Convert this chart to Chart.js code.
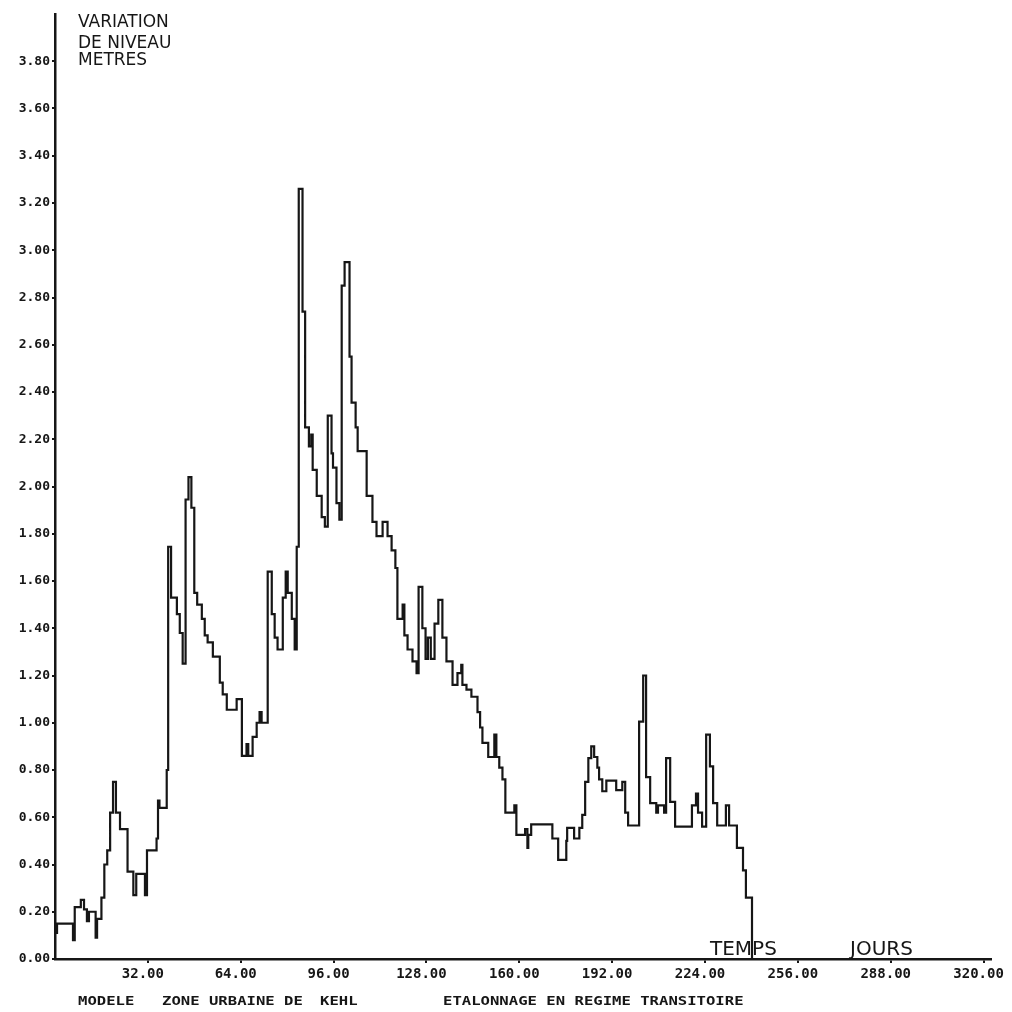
<!DOCTYPE html>
<html>
<head>
<meta charset="utf-8">
<script src="https://cdn.jsdelivr.net/npm/chart.js@4.4.1/dist/chart.umd.min.js"></script>
<style>
  html, body { margin: 0; padding: 0; background: #fff; }
  canvas { display: block; }
</style>
</head>
<body>
<canvas id="niveauChart" width="1012" height="1012"></canvas>
<script>
// ────────────────────────────────────────
// Donnees (jour de debut de palier, niveau en m)
// ────────────────────────────────────────
const days = [
    0, 0.7, 6.2, 6.8, 8.9, 10, 11, 11.7, 14, 14.5,
    16, 17, 18, 19, 20, 21, 22.4, 25, 27, 28,
    31, 31.7, 35, 35.5, 36, 38.5, 39, 40, 42, 43,
    44, 45, 46, 47, 48, 49, 50.6, 51.6, 52.6, 54.4,
    56.8, 57.8, 59.2, 62.6, 64.4, 66, 66.6, 68.1, 69.5, 70.5,
    71.2, 73.3, 74.7, 75.7, 76.7, 78.5, 79.5, 80.2, 81.6, 82.6,
    83.3, 84, 85.3, 86.2, 87.5, 88.3, 88.8, 90.2, 91.9, 93,
    94, 95.3, 95.8, 97, 98, 98.8, 99.8, 101.5, 102.2, 103.6,
    104.3, 107.4, 109.4, 110.8, 112.9, 114.6, 116, 117.3, 118, 119.8,
    120.4, 121.5, 123.2, 124.6, 125.3, 126.6, 127.7, 128.5, 129.5, 130.8,
    132.1, 133.5, 134.9, 137, 138.7, 140, 140.4, 141.8, 143.5, 145.6,
    146.5, 147.3, 149.3, 151.4, 152.1, 153.1, 154.2, 155.2, 158.3, 159,
    162, 162.8, 163.1, 164.1, 171.4, 173.4, 176.2, 176.5, 178.9, 180.7,
    181.7, 182.7, 183.8, 184.8, 185.8, 186.9, 187.5, 188.6, 190, 193.4,
    195.5, 196.5, 197.5, 201.3, 202.7, 203.7, 205.1, 207.2, 207.8, 209.9,
    210.6, 212, 213.7, 219.5, 220.9, 221.6, 223, 224.4, 225.7, 226.8,
    228.2, 231.2, 232.3, 235, 237.1, 238.1, 240.2, 240.6,
];

const levels = [
    0.11, 0.15, 0.08, 0.22, 0.25, 0.21, 0.16, 0.20, 0.09, 0.17,
    0.26, 0.40, 0.46, 0.62, 0.75, 0.62, 0.55, 0.37, 0.27, 0.36,
    0.27, 0.46, 0.51, 0.67, 0.64, 0.80, 1.745, 1.53, 1.46, 1.38,
    1.25, 1.945, 2.04, 1.91, 1.55, 1.50, 1.44, 1.37, 1.34, 1.28,
    1.17, 1.12, 1.055, 1.10, 0.86, 0.91, 0.86, 0.94, 1.00, 1.045,
    1.00, 1.64, 1.46, 1.36, 1.31, 1.53, 1.64, 1.55, 1.44, 1.31,
    1.745, 3.26, 2.74, 2.25, 2.17, 2.22, 2.07, 1.96, 1.87, 1.83,
    2.30, 2.14, 2.08, 1.93, 1.86, 2.85, 2.95, 2.55, 2.355, 2.25,
    2.15, 1.96, 1.85, 1.79, 1.85, 1.79, 1.73, 1.655, 1.44, 1.50,
    1.37, 1.31, 1.26, 1.21, 1.575, 1.40, 1.27, 1.36, 1.27, 1.42,
    1.52, 1.36, 1.26, 1.16, 1.21, 1.245, 1.16, 1.14, 1.11, 1.045,
    0.98, 0.915, 0.855, 0.95, 0.855, 0.81, 0.76, 0.62, 0.65, 0.525,
    0.55, 0.47, 0.525, 0.57, 0.51, 0.42, 0.50, 0.555, 0.51, 0.555,
    0.61, 0.75, 0.85, 0.90, 0.855, 0.81, 0.76, 0.71, 0.755, 0.715,
    0.75, 0.62, 0.565, 1.005, 1.20, 0.77, 0.66, 0.62, 0.65, 0.62,
    0.85, 0.665, 0.56, 0.65, 0.70, 0.62, 0.56, 0.95, 0.815, 0.66,
    0.565, 0.65, 0.565, 0.47, 0.375, 0.26, 0, 0,
];

const xTickValues = [32, 64, 96, 128, 160, 192, 224, 256, 288, 320];
const xTickLabels = ['32.00', '64.00', '96.00', '128.00', '160.00', '192.00', '224.00', '256.00', '288.00', '320.00'];
const yTickValues = [0, 0.2, 0.4, 0.6, 0.8, 1.0, 1.2, 1.4, 1.6, 1.8, 2.0, 2.2, 2.4, 2.6, 2.8, 3.0, 3.2, 3.4, 3.6, 3.8];
const yTickLabels = ['0.00', '0.20', '0.40', '0.60', '0.80', '1.00', '1.20', '1.40', '1.60', '1.80',
    '2.00', '2.20', '2.40', '2.60', '2.80', '3.00', '3.20', '3.40', '3.60', '3.80'];

const yTitle = ['VARIATION', 'DE NIVEAU', 'METRES'];
const xTitle = ['TEMPS', 'JOURS'];
const caption = ['MODELE', 'ZONE URBAINE DE', 'KEHL', 'ETALONNAGE EN REGIME TRANSITOIRE'];

const INK = '#161616';

// ────────────────────────────────────────
// Textes du traceur (titres, legende du bas)
// ────────────────────────────────────────
function stretchText(ctx, str, x, y, sx) {
    ctx.save();
    ctx.translate(x, y);
    ctx.scale(sx, 1);
    ctx.fillText(str, 0, 0);
    ctx.restore();
}

const plotterText = {
    id: 'plotterText',
    afterDraw(chart) {
        const ctx = chart.ctx;
        ctx.save();
        ctx.fillStyle = INK;
        ctx.textBaseline = 'alphabetic';
        ctx.textAlign = 'left';

        ctx.font = '17px "DejaVu Sans"';
        const titleBase = [27, 48, 65];
        yTitle.forEach((t, i) => ctx.fillText(t, 78, titleBase[i]));

        ctx.font = '20px "DejaVu Sans"';
        ctx.fillText(xTitle[0], 710, 955);
        ctx.fillText(xTitle[1], 850, 955);

        ctx.font = 'bold 12px "DejaVu Sans Mono"';
        const capX = [78, 162, 320, 443];
        caption.forEach((t, i) => stretchText(ctx, t, capX[i], 1005, 1.3));
        ctx.restore();
    },
};

function initChart() {
    const canvas = document.getElementById('niveauChart');
    const points = days.map((d, i) => ({ x: d, y: levels[i] }));

    new Chart(canvas, {
        type: 'line',
        data: {
            datasets: [{
                label: 'Variation de niveau',
                data: points,
                borderColor: INK,
                borderWidth: 2.2,
                stepped: true,
                pointRadius: 0,
                fill: false,
                tension: 0,
            }],
        },
        options: {
            responsive: false,
            animation: false,
            layout: { padding: { top: 14, right: 20, left: 0, bottom: 0 } },
            plugins: {
                legend: { display: false },
                tooltip: { enabled: false },
            },
            scales: {
                x: {
                    type: 'linear',
                    min: 0,
                    max: 322.4,
                    afterBuildTicks: (s) => { s.ticks = xTickValues.map(v => ({ value: v })); },
                    afterFit: (s) => { s.height = 53; },
                    grid: { drawOnChartArea: false, drawTicks: true, tickLength: 4, color: INK, lineWidth: 2 },
                    border: { display: true, color: INK, width: 2.5 },
                    ticks: {
                        autoSkip: false,
                        maxRotation: 0,
                        padding: 3,
                        labelOffset: -5,
                        color: INK,
                        font: { family: '"DejaVu Sans Mono"', size: 14, weight: 'bold' },
                        callback: (v, i) => xTickLabels[i],
                    },
                },
                y: {
                    type: 'linear',
                    min: 0,
                    max: 4.0,
                    afterBuildTicks: (s) => { s.ticks = yTickValues.map(v => ({ value: v })); },
                    afterFit: (s) => { s.width = 55; },
                    grid: { drawOnChartArea: false, drawTicks: true, tickLength: 3, color: INK, lineWidth: 2 },
                    border: { display: true, color: INK, width: 2.5 },
                    ticks: {
                        autoSkip: false,
                        padding: 2,
                        color: INK,
                        font: { family: '"DejaVu Sans Mono"', size: 13, weight: 'bold' },
                        callback: (v, i) => yTickLabels[i],
                    },
                },
            },
        },
        plugins: [plotterText],
    });
}

initChart();
</script>
</body>
</html>
